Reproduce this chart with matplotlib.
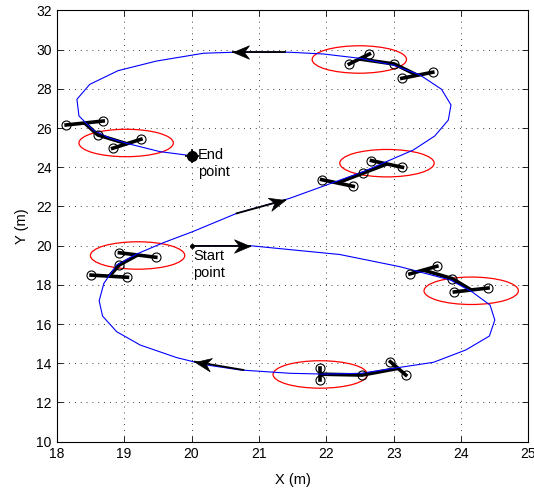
import numpy as np
import matplotlib
matplotlib.use("Agg")
import matplotlib.pyplot as plt
from matplotlib.patches import Ellipse
from matplotlib.path import Path
from matplotlib.markers import MarkerStyle
from matplotlib.transforms import Affine2D

plt.rcParams['font.family'] = ['Liberation Sans', 'DejaVu Sans']

# trajectory
traj_x = [20.0, 20.87, 21.46, 22.2, 23.09, 23.84, 24.16, 24.43, 24.50, 24.42, 24.07, 23.59, 22.99,
          22.52, 21.96, 21.46, 20.72, 20.23, 19.78, 19.24, 18.89, 18.68, 18.63, 18.70, 18.89,
          19.19, 19.58, 20.02, 20.67, 21.46, 22.55, 23.29, 23.61, 23.81, 23.85, 23.71, 23.39,
          22.99, 22.50, 21.96, 21.46, 20.62, 20.18, 19.48, 18.91, 18.49, 18.30, 18.33, 18.54,
          18.79, 19.04, 19.53, 20.0]
traj_y = [20.0, 20.0, 19.8, 19.55, 18.93, 18.25, 17.65, 16.97, 16.21, 15.39, 14.68, 14.05, 13.74,
          13.49, 13.45, 13.49, 13.66, 13.91, 14.29, 14.93, 15.61, 16.41, 17.19, 18.08, 19.02,
          19.58, 20.15, 20.72, 21.65, 22.42, 23.78, 24.88, 25.60, 26.41, 27.18, 27.98, 28.71,
          29.22, 29.56, 29.78, 29.87, 29.87, 29.82, 29.42, 28.93, 28.23, 27.47, 26.62, 25.90,
          25.48, 25.22, 24.80, 24.59]

# covariance ellipses (centres, radius in data units)
ell_x = [19.03, 22.49, 22.90, 19.20, 24.15, 21.91]
ell_y = [25.24, 29.50, 24.21, 19.50, 17.70, 13.43]
ell_r = 0.7

# quadrotor clusters: bar A (2 rotors), bar B (2 rotors), middle rotor on connector
barA = [((18.14, 26.16), (18.69, 26.36)),
        ((22.34, 29.27), (22.64, 29.78)),
        ((21.93, 23.37), (22.40, 23.03)),
        ((18.51, 18.50), (19.05, 18.39)),
        ((23.24, 18.56), (23.64, 18.95)),
        ((21.91, 13.74), (21.91, 13.15))]
barB = [((18.83, 24.97), (19.25, 25.43)),
        ((23.12, 28.54), (23.58, 28.85)),
        ((22.67, 24.34), (23.13, 24.00)),
        ((18.93, 19.64), (19.47, 19.41)),
        ((23.90, 17.64), (24.40, 17.84)),
        ((22.95, 14.08), (23.18, 13.40))]
mid_rotor = [(18.61, 25.65), (23.01, 29.27), (22.55, 23.71),
             (18.93, 19.02), (23.87, 18.32), (22.53, 13.40)]

# direction arrows (tail -> tip)
arr_tail = [(20.0, 20.0), (20.67, 21.65), (21.39, 29.9), (20.77, 13.66)]
arr_tip = [(20.87, 20.0), (21.39, 22.33), (20.62, 29.9), (20.05, 14.08)]

xticks = [18, 19, 20, 21, 22, 23, 24, 25]
yticks = list(range(10, 33, 2))

fig = plt.figure(figsize=(5.34, 4.95), dpi=100)
ax = fig.add_axes([0.1062, 0.1077, 0.8835, 0.8711])
ax.set_xlim(18, 25)
ax.set_ylim(10, 32)
ax.set_xticks(xticks)
ax.set_yticks(yticks)
ax.tick_params(direction='in', length=4, top=True, right=True, labelsize=10, width=0.6)
ax.grid(True, color='black', linestyle=(0, (1, 6)), linewidth=0.6)
for s in ax.spines.values():
    s.set_linewidth(0.8)

for cx, cy in zip(ell_x, ell_y):
    ax.add_patch(Ellipse((cx, cy), 2 * ell_r, 2 * ell_r, fill=False, color='red', lw=0.9, zorder=2))

# connectors and bars
for a, b, m in zip(barA, barB, mid_rotor):
    ma = ((a[0][0] + a[1][0]) / 2, (a[0][1] + a[1][1]) / 2)
    mb = ((b[0][0] + b[1][0]) / 2, (b[0][1] + b[1][1]) / 2)
    ax.plot([ma[0], m[0], mb[0]], [ma[1], m[1], mb[1]], color='black', lw=2.6, zorder=3,
            solid_capstyle='butt')
    for bar in (a, b):
        ax.plot([bar[0][0], bar[1][0]], [bar[0][1], bar[1][1]], color='black', lw=2.6, zorder=3)

ax.plot(traj_x, traj_y, color='blue', lw=0.8, zorder=4)

for a, b, m in zip(barA, barB, mid_rotor):
    pts = [a[0], a[1], b[0], b[1], m]
    ax.plot([p[0] for p in pts], [p[1] for p in pts], 'o', ms=6.5, mfc='none', mec='black',
            mew=0.8, zorder=5)

# arrows
head = Path([(0, 0), (-1, 0.42), (-0.68, 0), (-1, -0.42), (0, 0)],
            [Path.MOVETO, Path.LINETO, Path.LINETO, Path.LINETO, Path.CLOSEPOLY])
sx = 67.4
sy = 19.6
for t, p in zip(arr_tail, arr_tip):
    ax.plot([t[0], p[0]], [t[1], p[1]], color='black', lw=1.3, zorder=6)
    ang = np.degrees(np.arctan2((p[1] - t[1]) * sy, (p[0] - t[0]) * sx))
    mk = MarkerStyle(head, transform=Affine2D().rotate_deg(ang))
    ax.plot([p[0]], [p[1]], marker=mk, ms=23, color='black', mew=0.5, zorder=7)

ax.plot([20.0], [20.0], 'o', color='black', ms=2.5, zorder=7)
ax.plot([20.0], [24.6], 'o', color='black', ms=7, zorder=7)
ax.plot([20.0], [24.6], '+', color='black', ms=10, mew=1.2, zorder=7)

ax.text(20.1, 24.98, "End\npoint", fontsize=10.5, va='top', ha='left', linespacing=1.25, zorder=8)
ax.text(20.02, 19.82, "Start\npoint", fontsize=10.5, va='top', ha='left', linespacing=1.25, zorder=8)

ax.set_xlabel("X (m)", fontsize=10.5, labelpad=9)
ax.set_ylabel("Y (m)", fontsize=10.5, labelpad=5)

fig.savefig("out.png", dpi=100)
